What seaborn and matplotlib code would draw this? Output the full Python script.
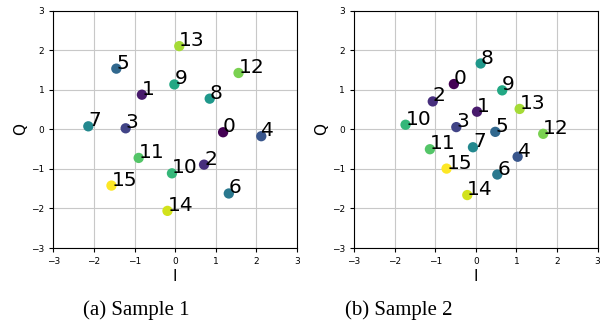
import numpy as np
import pandas as pd
import matplotlib
matplotlib.use('Agg')
import matplotlib.pyplot as plt
import seaborn as sns

# symbol indices and I/Q coordinates
idx = list(range(16))
i1 = [1.18, -0.82, 0.71, -1.22, 2.12, -1.45, 1.32, -2.14, 0.85, -0.02, -0.08, -0.90, 1.56, 0.10, -0.19, -1.57]
q1 = [-0.07, 0.88, -0.89, 0.03, -0.17, 1.54, -1.62, 0.08, 0.78, 1.14, -1.11, -0.72, 1.43, 2.11, -2.06, -1.42]
i2 = [-0.54, 0.03, -1.06, -0.48, 1.03, 0.48, 0.53, -0.07, 0.12, 0.65, -1.73, -1.13, 1.66, 1.08, -0.21, -0.72]
q2 = [1.15, 0.45, 0.71, 0.06, -0.69, -0.06, -1.14, -0.45, 1.67, 0.99, 0.12, -0.50, -0.11, 0.52, -1.66, -0.99]
captions = ['(a) Sample 1', '(b) Sample 2']
ticks = [-3, -2, -1, 0, 1, 2, 3]

sns.set_style('white', {'text.color': 'black', 'axes.labelcolor': 'black',
                        'xtick.color': 'black', 'ytick.color': 'black'})
fig = plt.figure(figsize=(6, 3.32), dpi=100)
ax1 = fig.add_axes([0.089, 0.253, 0.406, 0.714])
ax2 = fig.add_axes([0.590, 0.253, 0.406, 0.714])

for ax, xs, ys in [(ax1, i1, q1), (ax2, i2, q2)]:
    df = pd.DataFrame({'I': xs, 'Q': ys, 'k': idx})
    sns.scatterplot(data=df, x='I', y='Q', hue='k', palette='viridis',
                    s=55, edgecolor='none', legend=False, ax=ax, zorder=3)
    for k, x, y in zip(idx, xs, ys):
        ax.text(x, y, str(k), fontsize=14.5, color='black', zorder=4)
    ax.set_xlim(-3, 3)
    ax.set_ylim(-3, 3)
    ax.set_xticks(ticks)
    ax.set_yticks(ticks)
    ax.tick_params(labelsize=6.5, length=3, width=0.8, direction='out',
                   bottom=True, left=True)
    ax.grid(True, color='#c8c8c8', linewidth=0.8)
    ax.set_axisbelow(True)
    for sp in ax.spines.values():
        sp.set_color('black')
        sp.set_linewidth(0.8)
    ax.set_xlabel('I', fontsize=11, labelpad=2)
    ax.set_ylabel('Q', fontsize=11, labelpad=2)

fig.text(0.227, 0.052, captions[0], fontsize=15, family='Liberation Serif', ha='center')
fig.text(0.665, 0.052, captions[1], fontsize=15, family='Liberation Serif', ha='center')

fig.savefig('out.png', dpi=100)
